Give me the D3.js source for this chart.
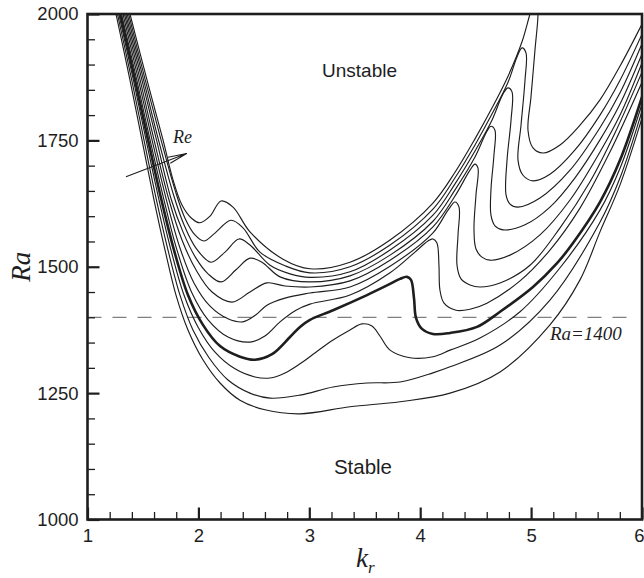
<!DOCTYPE html>
<html>
<head>
<meta charset="utf-8">
<script src="https://cdn.jsdelivr.net/npm/d3@7"></script>
<style>
  html, body { margin: 0; padding: 0; background: #fff; }
  svg { display: block; }
</style>
</head>
<body>
<svg id="chart" width="644" height="578"></svg>
<script>
// Neutral stability curves Ra(k_r), one array per Reynolds number, lowest Re first.
const curveRe1 = [[1.257,2000],[1.383,1869],[1.491,1751],[1.600,1632],[1.699,1533],[1.798,1444],[1.906,1375],[2.041,1316],[2.195,1270],[2.375,1236],[2.600,1217],[2.916,1209],[3.367,1223],[3.818,1233],[4.269,1250],[4.720,1292],[5.170,1385],[5.441,1474],[5.621,1569],[5.802,1662],[6.000,1794]];
const curveRe2 = [[1.270,2000],[1.399,1869],[1.509,1751],[1.622,1632],[1.726,1533],[1.834,1444],[1.951,1375],[2.096,1320],[2.267,1276],[2.465,1250],[2.646,1240],[2.916,1246],[3.214,1262],[3.520,1270],[3.818,1272],[4.115,1290],[4.269,1302],[4.720,1345],[5.170,1434],[5.621,1588],[5.802,1676],[6.000,1808]];
const curveRe3 = [[1.282,2000],[1.414,1869],[1.528,1751],[1.645,1632],[1.753,1533],[1.870,1444],[1.996,1381],[2.150,1331],[2.330,1298],[2.510,1282],[2.646,1280],[2.781,1290],[2.916,1308],[3.060,1331],[3.214,1355],[3.367,1375],[3.475,1387],[3.565,1383],[3.637,1363],[3.728,1335],[3.908,1320],[4.115,1322],[4.269,1335],[4.539,1359],[4.900,1411],[5.261,1498],[5.621,1612],[5.802,1695],[6.000,1822]];
// highlighted curve (drawn heavier)
const curveRe4 = [[1.295,2000],[1.429,1869],[1.546,1751],[1.667,1632],[1.780,1533],[1.906,1444],[2.041,1385],[2.195,1343],[2.375,1322],[2.510,1316],[2.664,1327],[2.826,1361],[2.916,1381],[3.006,1395],[3.214,1414],[3.520,1444],[3.728,1466],[3.818,1476],[3.881,1480],[3.917,1474],[3.944,1438],[3.962,1399],[4.016,1377],[4.115,1367],[4.269,1369],[4.512,1381],[4.720,1411],[5.017,1460],[5.234,1507],[5.378,1547],[5.621,1628],[5.802,1711],[6.000,1836]];
const curveRe5 = [[1.307,2000],[1.445,1869],[1.564,1751],[1.690,1632],[1.807,1533],[1.942,1448],[2.087,1395],[2.267,1361],[2.465,1351],[2.600,1363],[2.736,1391],[2.880,1414],[3.006,1426],[3.367,1444],[3.728,1488],[3.953,1529],[4.070,1551],[4.115,1555],[4.151,1547],[4.169,1503],[4.178,1454],[4.215,1428],[4.323,1414],[4.449,1416],[4.602,1428],[4.900,1472],[5.170,1533],[5.441,1616],[5.711,1727],[6.000,1865]];
const curveRe6 = [[1.320,2000],[1.460,1869],[1.582,1751],[1.712,1632],[1.834,1537],[1.960,1468],[2.105,1422],[2.267,1397],[2.402,1391],[2.519,1405],[2.618,1424],[2.781,1438],[3.006,1448],[3.367,1460],[3.728,1501],[4.115,1567],[4.251,1612],[4.314,1628],[4.350,1618],[4.341,1563],[4.332,1503],[4.368,1476],[4.449,1464],[4.539,1460],[4.720,1468],[4.990,1503],[5.261,1577],[5.531,1668],[5.757,1765],[6.000,1885]];
const curveRe7 = [[1.333,2000],[1.475,1869],[1.600,1751],[1.735,1632],[1.852,1553],[1.978,1494],[2.123,1450],[2.303,1430],[2.465,1450],[2.618,1468],[2.781,1462],[3.006,1460],[3.367,1472],[3.728,1513],[4.115,1579],[4.314,1640],[4.449,1691],[4.494,1703],[4.521,1695],[4.503,1642],[4.485,1573],[4.503,1535],[4.557,1519],[4.629,1513],[4.810,1523],[5.080,1563],[5.351,1632],[5.621,1727],[5.802,1800],[6.000,1903]];
const curveRe8 = [[1.345,2000],[1.491,1869],[1.622,1751],[1.757,1632],[1.861,1569],[1.978,1517],[2.087,1486],[2.204,1470],[2.339,1494],[2.465,1517],[2.573,1509],[2.736,1480],[3.006,1470],[3.367,1482],[3.728,1523],[4.115,1590],[4.314,1652],[4.494,1717],[4.602,1768],[4.638,1778],[4.674,1770],[4.665,1721],[4.638,1652],[4.638,1602],[4.674,1581],[4.747,1573],[4.945,1583],[5.170,1618],[5.396,1676],[5.621,1751],[5.802,1822],[6.000,1921]];
const curveRe9 = [[1.358,2000],[1.506,1869],[1.640,1751],[1.776,1642],[1.870,1583],[1.978,1537],[2.114,1509],[2.240,1529],[2.366,1555],[2.465,1543],[2.646,1503],[2.826,1486],[3.006,1479],[3.367,1490],[3.728,1533],[4.115,1602],[4.314,1664],[4.494,1729],[4.647,1790],[4.747,1842],[4.792,1854],[4.828,1846],[4.819,1790],[4.783,1711],[4.774,1642],[4.810,1624],[4.882,1618],[5.080,1636],[5.351,1691],[5.621,1775],[5.802,1844],[6.000,1941]];
const curveRe10 = [[1.371,2000],[1.521,1869],[1.663,1751],[1.789,1652],[1.879,1596],[1.969,1563],[2.050,1551],[2.141,1565],[2.294,1592],[2.402,1577],[2.555,1529],[2.781,1502],[3.006,1488],[3.367,1500],[3.728,1543],[4.115,1614],[4.314,1676],[4.494,1741],[4.647,1802],[4.792,1865],[4.873,1915],[4.918,1933],[4.954,1923],[4.945,1869],[4.909,1780],[4.882,1711],[4.927,1681],[5.017,1670],[5.170,1683],[5.396,1731],[5.621,1800],[5.802,1869],[6.000,1960]];
const curveRe11 = [[1.383,2000],[1.537,1869],[1.681,1751],[1.771,1672],[1.852,1622],[1.933,1597],[2.014,1587],[2.105,1600],[2.204,1630],[2.312,1618],[2.465,1569],[2.763,1515],[3.006,1496],[3.367,1509],[3.728,1553],[4.115,1626],[4.314,1687],[4.494,1753],[4.647,1814],[4.792,1877],[4.918,1945],[4.990,2000],[5.026,2024],[5.053,2020],[5.062,2000],[5.035,1929],[4.999,1836],[4.972,1770],[5.017,1735],[5.107,1725],[5.261,1741],[5.441,1780],[5.621,1830],[5.802,1897],[6.000,1980]];

const thinCurves = [curveRe1, curveRe2, curveRe3, curveRe5, curveRe6, curveRe7, curveRe8, curveRe9, curveRe10, curveRe11];
const boldCurve = curveRe4;

const xDomain = [1, 6];
const yDomain = [1000, 2000];
const xMajorTicks = [1, 2, 3, 4, 5, 6];
const xMinorTicks = [1.2,1.4,1.6,1.8,2.2,2.4,2.6,2.8,3.2,3.4,3.6,3.8,4.2,4.4,4.6,4.8,5.2,5.4,5.6,5.8];
const yMajorTicks = [1000, 1250, 1500, 1750, 2000];
const yMinorTicks = [1050,1100,1150,1200,1300,1350,1400,1450,1550,1600,1650,1700,1800,1850,1900,1950];

const referenceRa = 1400;
const referenceSpan = [1, 5.9];
const reArrow = [[1.347, 1678], [1.894, 1724]];

const svg = d3.select("#chart");
const x = d3.scaleLinear().domain(xDomain).range([87.5, 642]);
const y = d3.scaleLinear().domain(yDomain).range([519.5, 14]);

const ink = "#1e1e1e";
const sans = "'Liberation Sans', Arial, Helvetica, sans-serif";
const serif = "'Liberation Serif', 'Times New Roman', Times, serif";

svg.append("defs").append("clipPath").attr("id", "plotArea")
  .append("rect")
  .attr("x", x(1)).attr("y", y(2000))
  .attr("width", x(6) - x(1)).attr("height", y(1000) - y(2000));

const plot = svg.append("g").attr("clip-path", "url(#plotArea)");

// reference level Ra = 1400
plot.append("line")
  .attr("x1", x(referenceSpan[0])).attr("x2", x(referenceSpan[1]))
  .attr("y1", y(referenceRa)).attr("y2", y(referenceRa))
  .attr("stroke", "#808080").attr("stroke-width", 1.3)
  .attr("stroke-dasharray", "14,11");

const line = d3.line()
  .x(d => x(d[0]))
  .y(d => y(d[1]))
  .curve(d3.curveCatmullRom.alpha(0.5));

plot.selectAll("path.thin")
  .data(thinCurves)
  .join("path")
  .attr("class", "thin")
  .attr("d", line)
  .attr("fill", "none")
  .attr("stroke", ink)
  .attr("stroke-width", 1.15);

plot.append("path")
  .datum(boldCurve)
  .attr("d", line)
  .attr("fill", "none")
  .attr("stroke", ink)
  .attr("stroke-width", 2.6);

// axes with inward ticks
const xAxisG = svg.append("g").attr("transform", `translate(0,${y(1000)})`);
xAxisG.call(d3.axisBottom(x).tickValues(xMajorTicks).tickFormat(d3.format("d"))
  .tickSizeInner(-12).tickSizeOuter(0).tickPadding(9));
const xMinorG = svg.append("g").attr("transform", `translate(0,${y(1000)})`);
xMinorG.call(d3.axisBottom(x).tickValues(xMinorTicks).tickFormat("")
  .tickSizeInner(-7.5).tickSizeOuter(0));

const yAxisG = svg.append("g").attr("transform", `translate(${x(1)},0)`);
yAxisG.call(d3.axisLeft(y).tickValues(yMajorTicks).tickFormat(d3.format("d"))
  .tickSizeInner(-12).tickSizeOuter(0).tickPadding(9));
const yMinorG = svg.append("g").attr("transform", `translate(${x(1)},0)`);
yMinorG.call(d3.axisLeft(y).tickValues(yMinorTicks).tickFormat("")
  .tickSizeInner(-7.5).tickSizeOuter(0));

[xAxisG, xMinorG, yAxisG, yMinorG].forEach(g => g.select(".domain").remove());
[xAxisG, yAxisG].forEach(g => {
  g.selectAll(".tick line").attr("stroke", ink).attr("stroke-width", 2.2);
  g.selectAll(".tick text").attr("fill", ink).style("font-family", sans).style("font-size", "18.5px");
});
[xMinorG, yMinorG].forEach(g => g.selectAll(".tick line").attr("stroke", ink).attr("stroke-width", 1.3));
// last x label sits against the right edge of the canvas
xAxisG.selectAll(".tick text").filter(d => d === 6).attr("text-anchor", "end").attr("x", 2);

// frame
svg.append("rect")
  .attr("x", x(1)).attr("y", y(2000))
  .attr("width", x(6) - x(1)).attr("height", y(1000) - y(2000))
  .attr("fill", "none").attr("stroke", ink).attr("stroke-width", 2.6);

// region labels
svg.append("text").attr("x", x(3.453)).attr("y", y(1875))
  .attr("text-anchor", "middle").style("font-family", sans).style("font-size", "19px")
  .attr("fill", ink).text("Unstable");
svg.append("text").attr("x", x(3.484)).attr("y", y(1090))
  .attr("text-anchor", "middle").style("font-family", sans).style("font-size", "20.5px")
  .attr("fill", ink).text("Stable");

// reference level label
svg.append("text").attr("x", x(5.17)).attr("y", y(1356))
  .style("font-family", serif).style("font-style", "italic").style("font-size", "19px")
  .attr("fill", ink).text("Ra=1400");

// increasing-Re arrow
const p0 = [x(reArrow[0][0]), y(reArrow[0][1])];
const p1 = [x(reArrow[1][0]), y(reArrow[1][1])];
const ang = Math.atan2(p1[1] - p0[1], p1[0] - p0[0]);
const barb = 19, spread = 0.17;
svg.append("path")
  .attr("d", `M${p0[0]},${p0[1]}L${p1[0]},${p1[1]}` +
    `M${p1[0] - barb * Math.cos(ang - spread)},${p1[1] - barb * Math.sin(ang - spread)}L${p1[0]},${p1[1]}` +
    `L${p1[0] - barb * Math.cos(ang + spread)},${p1[1] - barb * Math.sin(ang + spread)}`)
  .attr("fill", "none").attr("stroke", ink).attr("stroke-width", 1.1);
svg.append("text").attr("x", x(1.77)).attr("y", y(1745))
  .style("font-family", serif).style("font-style", "italic").style("font-size", "18px")
  .attr("fill", ink).text("Re");

// axis titles
svg.append("text").attr("x", 356).attr("y", 567)
  .style("font-family", serif).style("font-style", "italic").style("font-size", "27px")
  .attr("fill", ink)
  .call(t => {
    t.append("tspan").text("k");
    t.append("tspan").attr("dy", 6).style("font-size", "17px").text("r");
  });
svg.append("text").attr("transform", `translate(30,${y(1500)}) rotate(-90)`)
  .attr("text-anchor", "middle")
  .style("font-family", serif).style("font-style", "italic").style("font-size", "27px")
  .attr("fill", ink).text("Ra");
</script>
</body>
</html>
